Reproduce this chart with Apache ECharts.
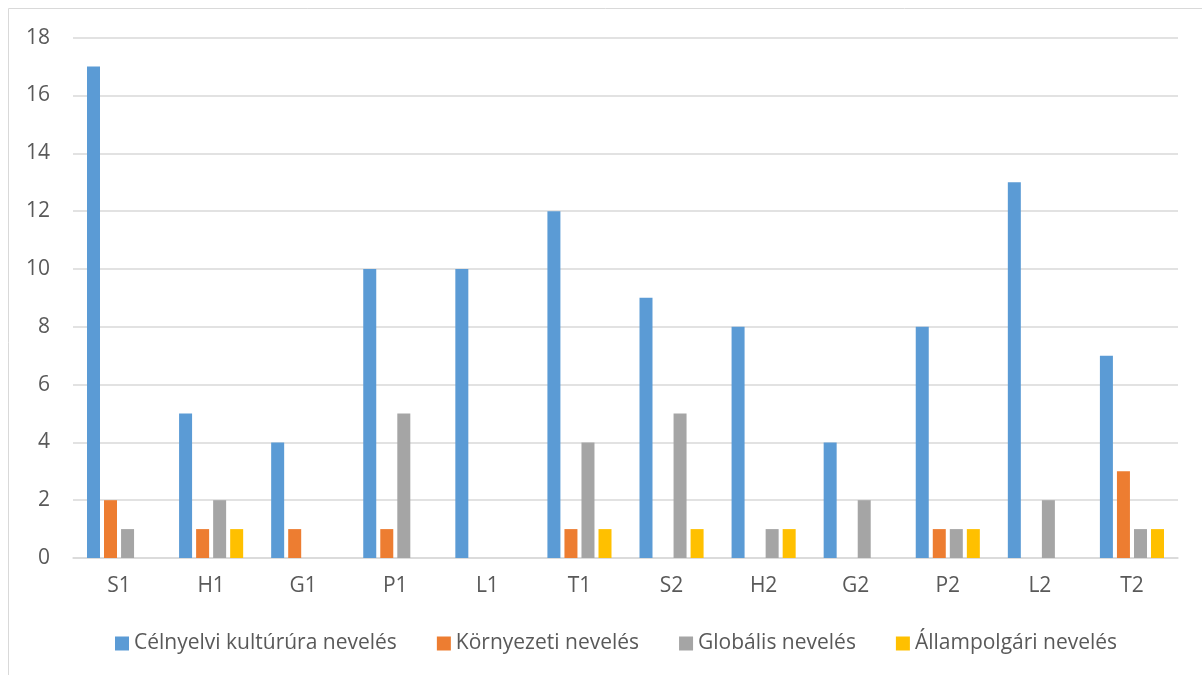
<!DOCTYPE html>
<html><head><meta charset="utf-8">
<script src="https://cdn.jsdelivr.net/npm/echarts@6/dist/echarts.min.js"></script>
<style>html,body{margin:0;padding:0;background:#fff}#c{width:1202px;height:675px}</style>
</head><body><div id="c"></div>
<script>
var categories = ['S1','H1','G1','P1','L1','T1','S2','H2','G2','P2','L2','T2'];
var seriesNames = ['Célnyelvi kultúrúra nevelés','Környezeti nevelés','Globális nevelés','Állampolgári nevelés'];
var celnyelvi = [17,5,4,10,10,12,9,8,4,8,13,7];
var kornyezeti = [2,1,1,1,0,1,0,0,0,1,0,3];
var globalis = [1,2,0,5,0,4,5,1,2,1,2,1];
var allampolgari = [0,1,0,0,0,1,1,1,0,1,0,1];
var yTicks = [0,2,4,6,8,10,12,14,16,18];
var colors = ['#5B9BD5','#ED7D31','#A5A5A5','#FFC000'];
var values = [celnyelvi, kornyezeti, globalis, allampolgari];

var chart = echarts.init(document.getElementById('c'));
var font = '"Open Sans", "Noto Sans", sans-serif';
chart.setOption({
  animation: false,
  textStyle: {fontFamily: font},
  graphic: [{type:'rect', shape:{x:8.5,y:8.5,width:1220,height:700}, style:{fill:'none', stroke:'#d9d9d9', lineWidth:1}, silent:true}],
  grid: {left:73, right:24, top:37.7, bottom:117, containLabel:false},
  legend: {
    top: 628, left: 110,
    itemWidth: 14, itemHeight: 14, itemGap: 40,
    icon: 'rect',
    textStyle: {color:'#595959', fontSize:21, fontFamily: font},
    data: seriesNames
  },
  xAxis: {
    type:'category', data: categories,
    axisLine:{lineStyle:{color:'#d9d9d9', width:1.5}},
    axisTick:{show:false},
    axisLabel:{color:'#595959', fontSize:21, margin:18, fontFamily: font}
  },
  yAxis: {
    type:'value', min:yTicks[0], max:yTicks[yTicks.length-1], interval:2,
    axisLine:{show:false}, axisTick:{show:false},
    splitLine:{lineStyle:{color:'#d9d9d9', width:1.5}},
    axisLabel:{color:'#595959', fontSize:21, margin:23, fontFamily: font}
  },
  series: seriesNames.map(function(n,i){
    return {name:n, type:'bar', data: values[i], barWidth:13, barGap:'31%',
      itemStyle:{color:colors[i]}};
  })
});
</script></body></html>
